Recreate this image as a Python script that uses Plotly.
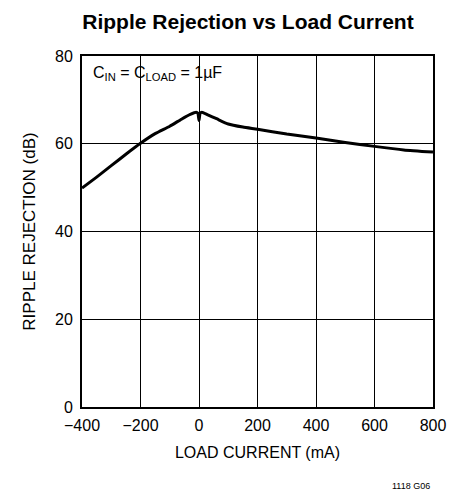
import plotly.graph_objects as go

load_current = [-400, -350, -300, -250, -200, -150, -100, -60, -30, -10, -4, 0, 4, 10,
                30, 60, 100, 150, 200, 300, 400, 500, 600, 700, 800]
ripple_rejection = [49.9, 52.4, 55.0, 57.6, 60.1, 62.3, 64.0, 65.6, 66.7, 67.2, 67.0, 65.3,
                    67.0, 67.2, 66.6, 65.7, 64.5, 63.8, 63.3, 62.2, 61.3, 60.3, 59.4, 58.6, 58.1]
x_ticks = [-400, -200, 0, 200, 400, 600, 800]
y_ticks = [0, 20, 40, 60, 80]

FONT = "Liberation Sans, Arial, Helvetica, sans-serif"

fig = go.Figure()
fig.add_trace(go.Scatter(
    x=load_current, y=ripple_rejection, mode="lines",
    line=dict(color="black", width=3, shape="spline", smoothing=0.5),
    showlegend=False, hoverinfo="skip",
))

fig.update_layout(
    width=466, height=493,
    margin=dict(l=74, r=41, t=48, b=94),
    paper_bgcolor="white", plot_bgcolor="white",
    font=dict(family=FONT, color="black", size=16),
    title=dict(text="<b>Ripple Rejection vs Load Current</b>", x=0.515, xanchor="center",
               y=0.972, yanchor="middle", font=dict(size=21, family=FONT, color="black")),
    xaxis=dict(range=[-400, 800], tickvals=x_ticks, showgrid=True, gridcolor="black",
               gridwidth=1, zeroline=False, showline=True, linecolor="black", linewidth=2,
               mirror=True, ticks="", tickfont=dict(size=16), ticklabelstandoff=3,
               title=dict(text="LOAD CURRENT (mA)", font=dict(size=16), standoff=14)),
    yaxis=dict(range=[0, 80], tickvals=y_ticks, showgrid=True, gridcolor="black",
               gridwidth=1, zeroline=False, showline=True, linecolor="black", linewidth=2,
               mirror=True, ticks="", tickfont=dict(size=16), ticklabelstandoff=4,
               title=dict(text="RIPPLE REJECTION (dB)", font=dict(size=17), standoff=15)),
    annotations=[
        dict(text="C<sub>IN</sub> = C<sub>LOAD</sub> = 1µF", x=-370, y=76, xref="x", yref="y",
             xanchor="left", yanchor="middle", showarrow=False, font=dict(size=16, family=FONT)),
        dict(text="1118 G06", x=0.997, y=-0.225, xref="paper", yref="paper",
             xanchor="right", yanchor="middle", showarrow=False,
             font=dict(size=9, family=FONT)),
    ],
)

fig.write_html("out.html")
